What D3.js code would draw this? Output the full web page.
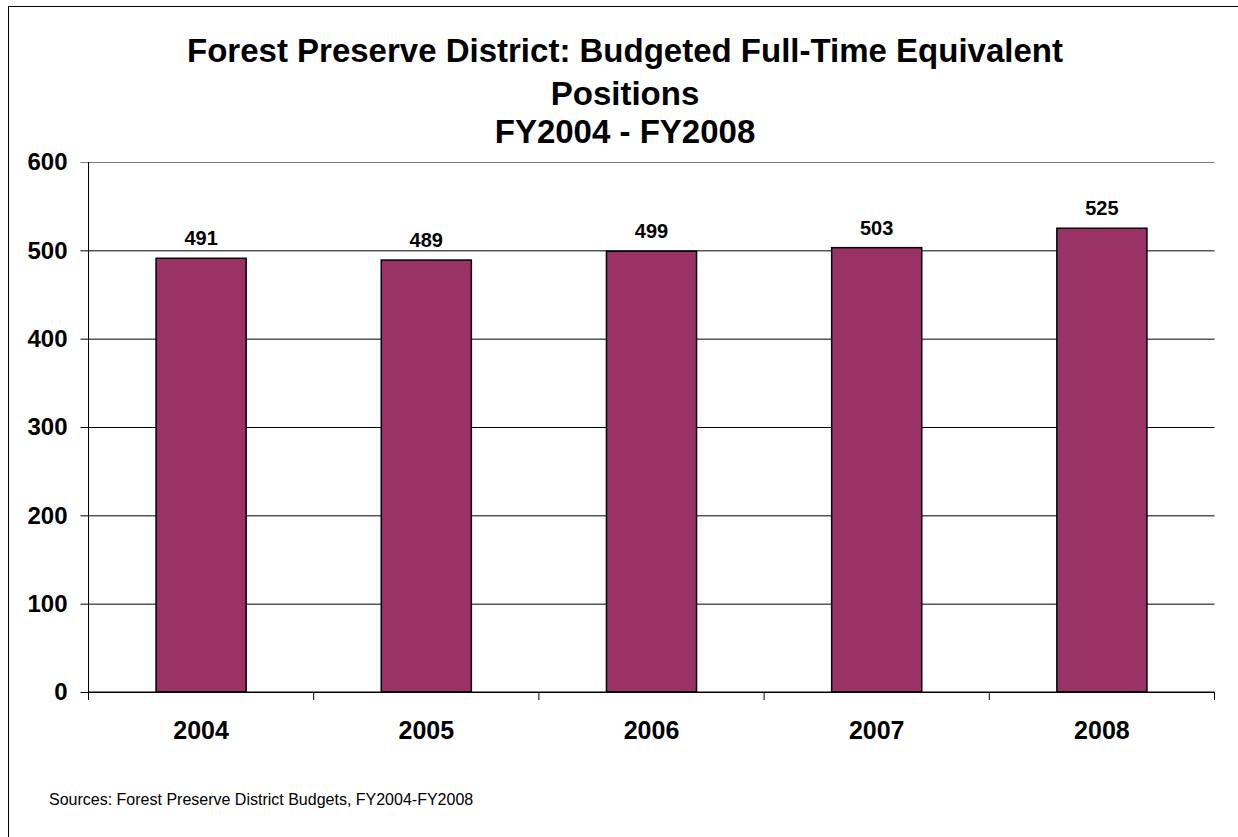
<!DOCTYPE html>
<html>
<head>
<meta charset="utf-8">
<script src="https://cdn.jsdelivr.net/npm/d3@7"></script>
<style>
  body { margin: 0; background: #fff; }
  text { font-family: Arial, "Liberation Sans", sans-serif; }
</style>
</head>
<body>
<div id="chart"></div>
<script>
// Chart data
var years = ["2004", "2005", "2006", "2007", "2008"];
var positions = [491, 489, 499, 503, 525];
var yTicks = [0, 100, 200, 300, 400, 500, 600];
var titleLines = ["Forest Preserve District: Budgeted Full-Time Equivalent", "Positions", "FY2004 - FY2008"];
var sourceNote = "Sources: Forest Preserve District Budgets, FY2004-FY2008";

var width = 1238,
		height = 837,
		plot = {left: 88.5, right: 1214.5, top: 162, bottom: 692};

var svg = d3.select("#chart").append("svg")
		.attr("width", width)
		.attr("height", height);

// Outer frame (runs off the right/bottom edge in the original)
svg.append("rect")
		.attr("x", 8.5)
		.attr("y", 6.5)
		.attr("width", 1240)
		.attr("height", 840)
		.style("fill", "none")
		.style("stroke", "#000")
		.style("stroke-width", 1);

// Title
var titleBaselines = [62, 105, 143];
svg.append("g").attr("class", "title")
	.selectAll("text")
	.data(titleLines)
	.enter().append("text")
		.attr("x", 625)
		.attr("y", function(d, i) { return titleBaselines[i]; })
		.attr("text-anchor", "middle")
		.style("font-size", "33px")
		.style("font-weight", "bold")
		.text(function(d) { return d; });

// Scales
var xScale = d3.scaleBand()
		.domain(years)
		.range([plot.left, plot.right])
		.paddingInner(0.6)
		.paddingOuter(0.3);

var yScale = d3.scaleLinear()
		.domain([0, 600])
		.range([plot.bottom, plot.top]);

// Gridlines + y axis
var yAxis = d3.axisLeft(yScale)
		.tickValues(yTicks)
		.tickSize(-(plot.right - plot.left))
		.tickPadding(21)
		.tickFormat(d3.format("d"));

var yG = svg.append("g")
		.attr("class", "y axis")
		.attr("transform", "translate(" + plot.left + ",0)")
		.call(yAxis);

yG.select(".domain").remove();
yG.selectAll(".tick line")
		.attr("x1", -8)
		.style("stroke", function(d) { return d === 600 ? "#808080" : "#000"; });
yG.selectAll(".tick text")
		.style("font-size", "24px")
		.style("font-weight", "bold")
		.style("fill", "#000");

// Bars
svg.append("g").attr("class", "bars")
	.selectAll("rect")
	.data(positions)
	.enter().append("rect")
		.attr("x", function(d, i) { return xScale(years[i]); })
		.attr("y", function(d) { return yScale(d); })
		.attr("width", xScale.bandwidth())
		.attr("height", function(d) { return yScale(0) - yScale(d); })
		.style("fill", "#993366")
		.style("stroke", "#000")
		.style("stroke-width", 1.5);

// Value labels
svg.append("g").attr("class", "labels")
	.selectAll("text")
	.data(positions)
	.enter().append("text")
		.attr("x", function(d, i) { return xScale(years[i]) + xScale.bandwidth() / 2; })
		.attr("y", function(d) { return yScale(d) - 13; })
		.attr("text-anchor", "middle")
		.style("font-size", "20px")
		.style("font-weight", "bold")
		.text(function(d) { return d; });

// Y axis line
svg.append("line")
		.attr("x1", plot.left).attr("x2", plot.left)
		.attr("y1", plot.top).attr("y2", plot.bottom)
		.style("stroke", "#000");

// X axis: line, boundary ticks, category labels
var xG = svg.append("g")
		.attr("class", "x axis")
		.attr("transform", "translate(0," + plot.bottom + ")");

xG.append("line")
		.attr("x1", plot.left).attr("x2", plot.right)
		.style("stroke", "#000");

var edges = d3.range(years.length + 1).map(function(i) { return plot.left + i * xScale.step(); });
xG.selectAll(".edge")
	.data(edges)
	.enter().append("line")
		.attr("class", "edge")
		.attr("x1", function(d) { return d; })
		.attr("x2", function(d) { return d; })
		.attr("y1", 0)
		.attr("y2", 8)
		.style("stroke", "#000");

xG.selectAll(".cat")
	.data(years)
	.enter().append("text")
		.attr("class", "cat")
		.attr("x", function(d) { return xScale(d) + xScale.bandwidth() / 2; })
		.attr("y", 47)
		.attr("text-anchor", "middle")
		.style("font-size", "25px")
		.style("font-weight", "bold")
		.text(function(d) { return d; });

// Source note
svg.append("text")
		.attr("x", 49)
		.attr("y", 805)
		.style("font-size", "16px")
		.text(sourceNote);
</script>
</body>
</html>
